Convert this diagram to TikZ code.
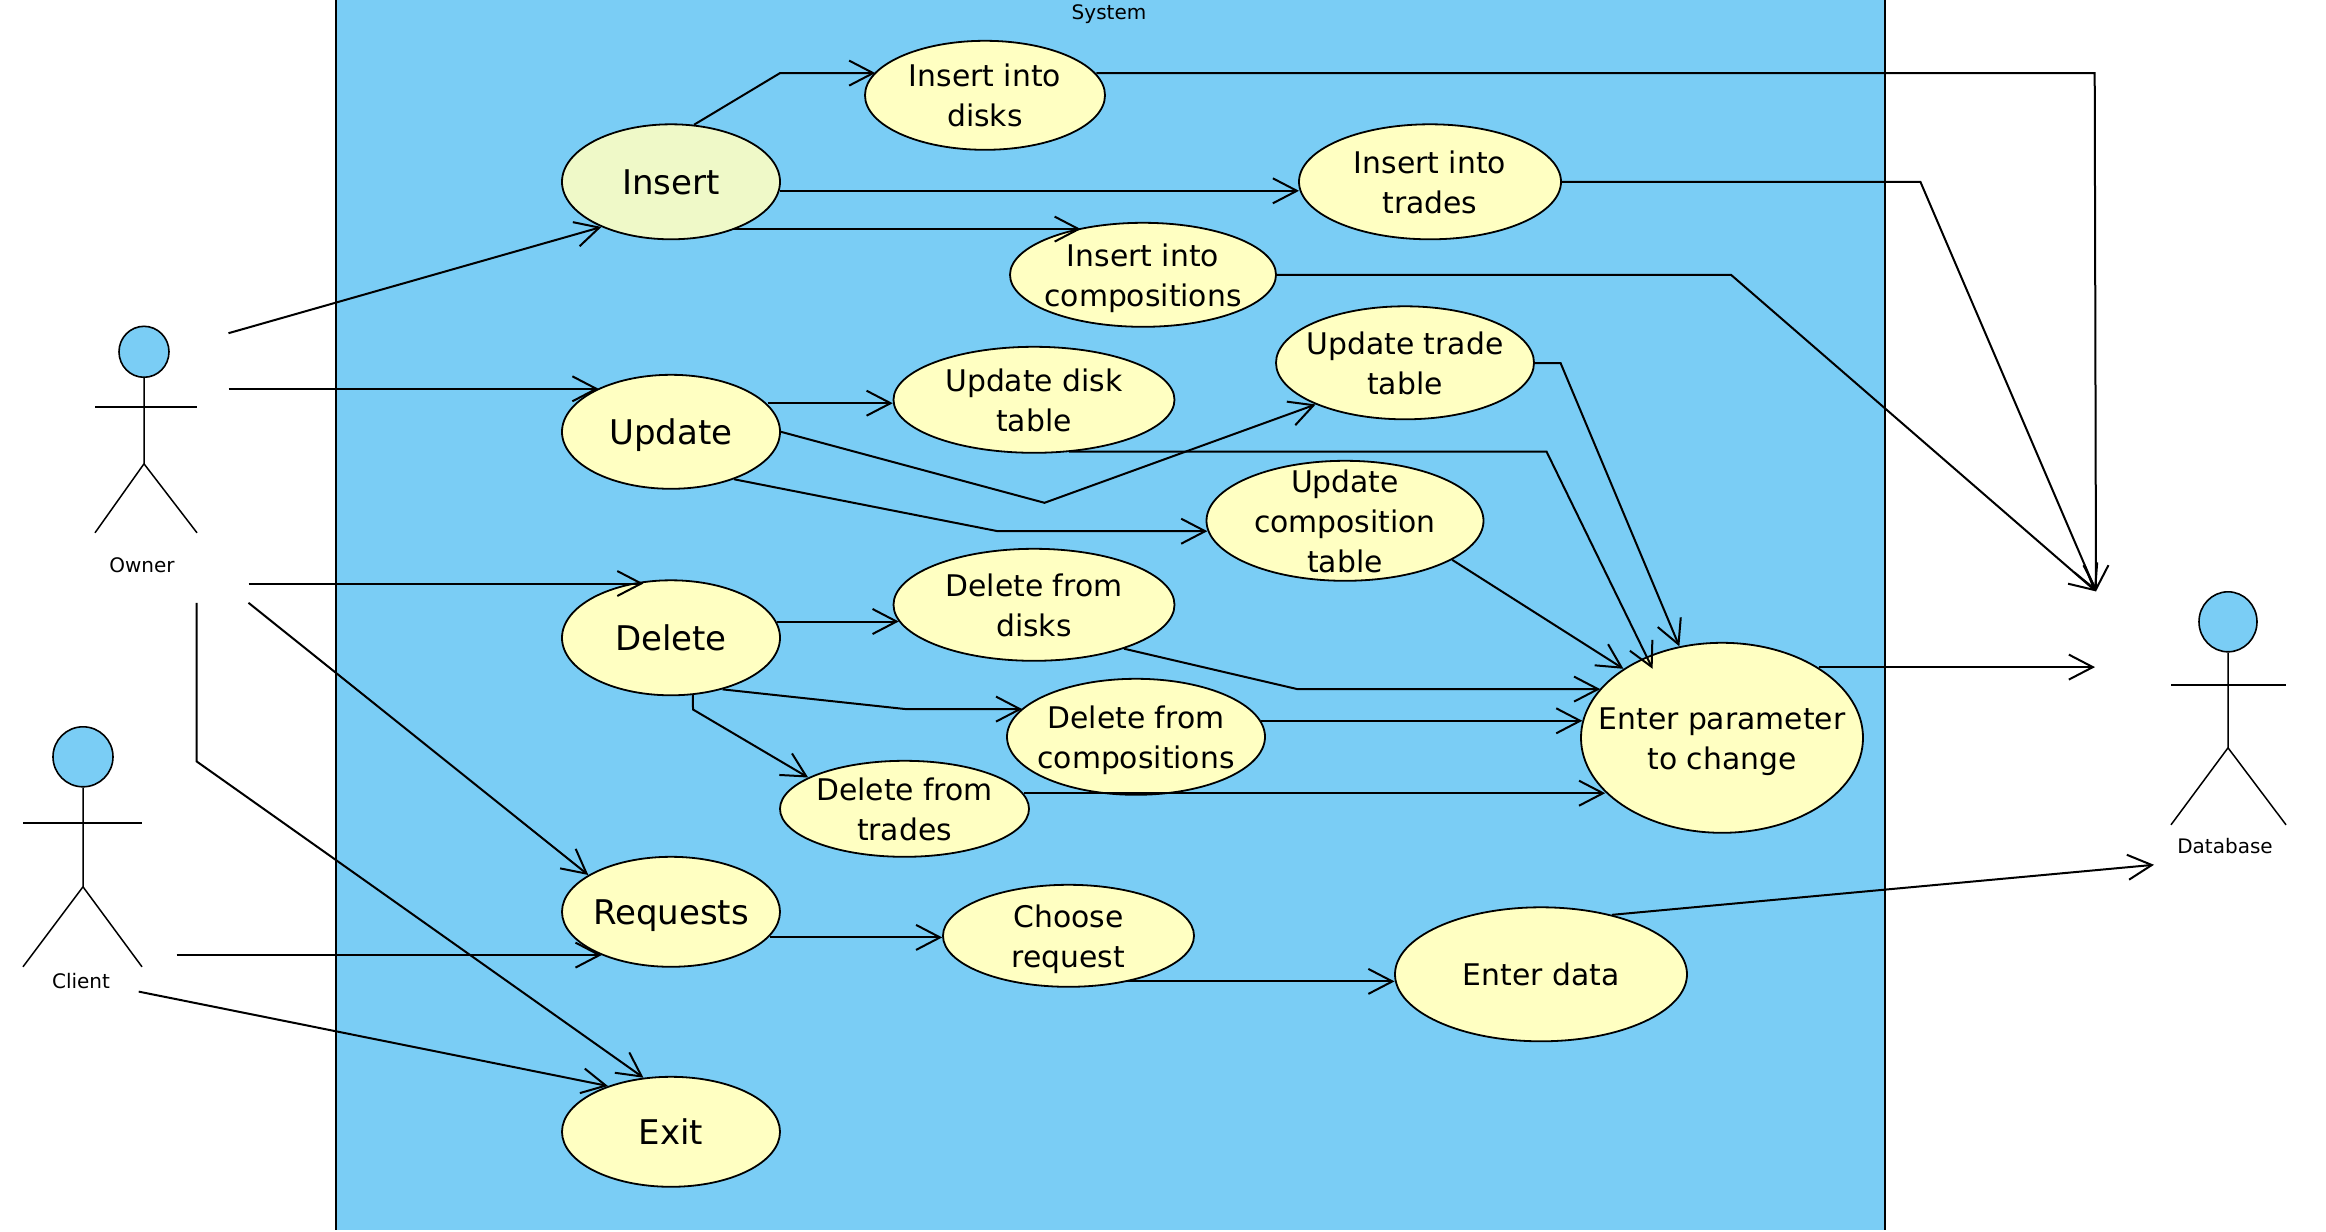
\documentclass[tikz,border=0pt]{standalone}
\usepackage{fontspec}
\setmainfont{DejaVu Sans}
\usetikzlibrary{arrows.meta,shapes.geometric}
\definecolor{sysblue}{RGB}{122,205,245}
\definecolor{caseyellow}{RGB}{255,255,194}
\definecolor{casegreen}{RGB}{239,249,200}
\newcommand{\casetop}{\rule{0pt}{1em}}

\begin{document}
\begin{tikzpicture}[
    x=0.5pt,
    y=-0.5pt,
    >={Straight Barb[length=12pt,width=12.5pt]},
    usecase/.style={
        draw,
        ellipse,
        fill=caseyellow,
        line width=0.9pt,
        inner sep=-20pt,
        align=center,
        font=\fontsize{14.9}{20}\selectfont,
        execute at end node={\rule[-0.235em]{0pt}{0.235em}}
    },
    maincase/.style={
        usecase,
        minimum width=109pt,
        font=\fontsize{17}{20}\selectfont
    },
    actorhead/.style={
        draw,
        ellipse,
        fill=sysblue,
        inner sep=0pt,
        line width=0.8pt
    },
    actorname/.style={
        font=\fontsize{10}{12}\selectfont
    },
    every edge/.style={
        draw,
        line width=1pt
    },
    flow/.style={
        ->,
        line width=1pt
    },
    limb/.style={
        line width=0.75pt
    }
]
\useasboundingbox (0,-0.8) rectangle (2326,1231.2);

% =====================
% SYSTEM
% =====================
\fill[sysblue] (336,-4) rectangle (1885,1229.5);
\draw[line width=0.75pt] (336,-4) -- (336,1229.5);
\draw[line width=0.75pt] (1885,-4) -- (1885,1229.5);
\node[actorname] at (1109,13) (System) {System};

% =====================
% ACTORS
% =====================
\node[actorhead, minimum width=25pt, minimum height=25.5pt] at (144,351) (OwnerHead) {};
\draw[limb] (OwnerHead.south) -- (144,463) -- (95,532);
\draw[limb] (144,463) -- (197,532);
\draw[limb] (95,406) -- (197,406);
\node[actorname] at (142,564) (Owner) {Owner};

\node[actorhead, minimum width=30pt, minimum height=30pt] at (83,756) (ClientHead) {};
\draw[limb] (ClientHead.south) -- (83,886) -- (23,966);
\draw[limb] (83,886) -- (142,966);
\draw[limb] (23,822) -- (142,822);
\node[actorname] at (81,980) (Client) {Client};

\node[actorhead, minimum width=29pt, minimum height=30pt] at (2228,621) (DatabaseHead) {};
\draw[limb] (DatabaseHead.south) -- (2228,747) -- (2171,824);
\draw[limb] (2228,747) -- (2286,824);
\draw[limb] (2171,684) -- (2286,684);
\node[actorname] at (2225,845) (Database) {Database};

% free ends
\coordinate (OwnerA) at (228.5,332.4);
\coordinate (OwnerB) at (228.5,388);
\coordinate (OwnerC) at (248.5,582.7);
\coordinate (OwnerD) at (248.5,602);
\coordinate (OwnerE) at (196.6,602);
\coordinate (ClientA) at (176.6,954.3);
\coordinate (ClientB) at (138.7,990.8);
\coordinate (DatabaseIn) at (2096,590.6);
\coordinate (DatabaseMid) at (2095,666.3);
\coordinate (DatabaseLow) at (2154,864);
\coordinate (EnterIn) at (1652.6,668);

% =====================
% USE CASES
% =====================
\node[maincase, fill=casegreen, minimum height=57.5pt] at (671,181) (Insert) {\casetop Insert};
\node[maincase, minimum height=57pt] at (671,431) (Update) {\casetop Update};
\node[maincase, minimum height=57.5pt] at (671,637) (Delete) {\casetop Delete};
\node[maincase, minimum height=55pt] at (671,911) (Requests) {\casetop Requests};
\node[maincase, minimum height=55pt] at (671,1131) (Exit) {\casetop Exit};

\node[usecase, minimum width=120pt, minimum height=54.5pt] at (985,94.5) (InsertDisks) {\casetop Insert into\\disks};
\node[usecase, minimum width=131pt, minimum height=57.5pt] at (1430,181) (InsertTrades) {\casetop Insert into\\trades};
\node[usecase, minimum width=133pt, minimum height=52pt] at (1143,274) (InsertComp) {\casetop Insert into\\compositions};
\node[usecase, minimum width=140.5pt, minimum height=53pt] at (1034,399) (UpdateDisk) {\casetop Update disk\\table};
\node[usecase, minimum width=129pt, minimum height=56.5pt] at (1405,362) (UpdateTrade) {\casetop Update trade\\table};
\node[usecase, minimum width=138.5pt, minimum height=60pt] at (1345,520) (UpdateComp) {\casetop Update\\composition\\table};
\node[usecase, minimum width=140.5pt, minimum height=56pt] at (1034,604) (DeleteDisks) {\casetop Delete from\\disks};
\node[usecase, minimum width=129pt, minimum height=58pt] at (1136,736) (DeleteComp) {\casetop Delete from\\compositions};
\node[usecase, minimum width=124.5pt, minimum height=48pt] at (904.5,808) (DeleteTrades) {\casetop Delete from\\trades};
\node[usecase, minimum width=125.5pt, minimum height=51pt] at (1068.5,935) (Choose) {\casetop Choose\\request};
\node[usecase, minimum width=146pt, minimum height=67pt] at (1541,973.5) (EnterData) {\casetop Enter data};
\node[usecase, minimum width=141pt, minimum height=95pt] at (1722,737) (EnterParam) {\casetop Enter parameter\\to change};

% =====================
% ACTOR LINKS
% =====================
\path (OwnerA) edge[->] (Insert.213.5);
\path (OwnerB) edge[->] (Update.149.5 |- OwnerB);
\path (OwnerC) edge[->] (Delete.116.4 |- OwnerC);
\path (OwnerD) edge[->] (Requests.156.8);
\draw[flow] (OwnerE) -- (196.6,760.6) -- (Exit.117.7);
\path (ClientA) edge[->] (Requests.212.9 |- ClientA);
\path (ClientB) edge[->] (Exit.144.1);

% =====================
% INSERT
% =====================
\draw[flow] (Insert.68.9) -- (780,72.3) -- (InsertDisks.168.6 |- 0,72.3);
\path (Insert.-4.7 |- 0,190) edge[->] (InsertTrades.183.9 |- 0,190);
\path (Insert.-37.3 |- 0,228.3) edge[->] (InsertComp.143.6 |- 0,228.3);
\draw[flow] (InsertDisks.11.3 |- 0,72.3) -- (2094.7,72.3) -- (DatabaseIn);
\draw[flow] (InsertTrades.0) -- (1920.4,181) -- (DatabaseIn);
\draw[flow] (InsertComp.0) -- (1731,274) -- (DatabaseIn);

% =====================
% UPDATE
% =====================
\path (Update.16.8 |- 0,402.4) edge[->] (UpdateDisk.181.4 |- 0,402.4);
\draw[flow] (Update.0) -- (1044.5,502) -- (UpdateTrade.205.3);
\draw[flow] (Update.-37.5) -- (997.8,530.4) -- (UpdateComp.184.3 |- 0,530.4);
\draw[flow] (UpdateDisk.-56.7 |- 0,450.7) -- (1546.5,450.7) -- (EnterIn);
\draw[flow] (UpdateTrade.0 |- 0,362.3) -- (1560.6,362.3) -- (EnterParam.115.8);
\path (UpdateComp.-20.8) edge[->] (EnterParam.145.1);

% =====================
% DELETE
% =====================
\path (Delete.8.9 |- 0,620.7) edge[->] (DeleteDisks.187 |- 0,620.7);
\draw[flow] (Delete.-45.6) -- (905.8,708.3) -- (DeleteComp.166.1 |- 0,708.3);
\draw[flow] (Delete.-69) -- (693,708.7) -- (DeleteTrades.162);
\draw[flow] (DeleteDisks.-26) -- (1297.3,688.3) -- (EnterParam.158.1 |- 0,688.3);
\path (DeleteComp.7.4 |- 0,720) edge[->] (EnterParam.173 |- 0,720);
\path (DeleteTrades.7.5 |- 0,792.4) edge[->] (EnterParam.205.6 |- 0,792.4);
\path (EnterParam.36.9 |- DatabaseMid) edge[->] (DatabaseMid);

% =====================
% REQUESTS
% =====================
\path (Requests.-14.5 |- 0,936.6) edge[->] (Choose.181 |- 0,936.6);
\path (Choose.-39.4 |- 0,980.6) edge[->] (EnterData.182.7 |- 0,980.6);
\path (EnterData.40) edge[->] (DatabaseLow);

\end{tikzpicture}
\end{document}
